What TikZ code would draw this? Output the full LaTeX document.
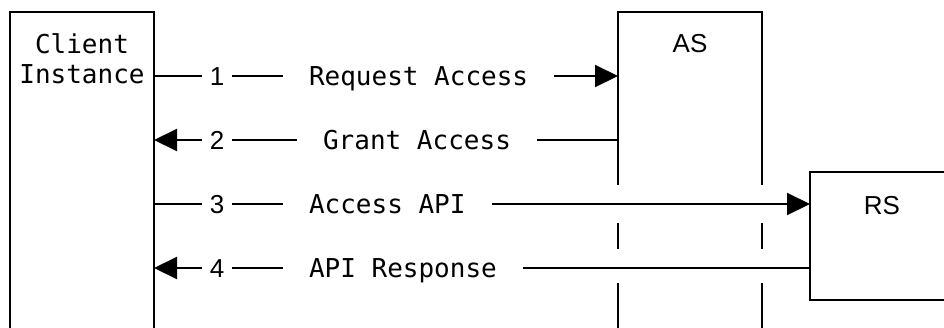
\documentclass[tikz,border=0pt]{standalone}
\usepackage{fontspec}
\setmainfont{Liberation Sans}
\setmonofont{DejaVu Sans Mono}
\usetikzlibrary{arrows.meta, positioning}

\begin{document}
\begin{tikzpicture}[
	x=1pt, y=-1pt,
	line width=2pt,
	party/.style={
		draw,
		rectangle,
		minimum width=144pt,
		inner sep=0pt,
		outer sep=0pt
	},
	who/.style={
		font=\fontsize{26pt}{30pt}\selectfont\ttfamily,
		align=center,
		inner sep=0pt
	},
	head/.style={
		font=\fontsize{26pt}{30pt}\selectfont,
		inner sep=0pt
	},
	num/.style={
		font=\fontsize{26pt}{30pt}\selectfont,
		fill=white,
		text height=18.6pt, text depth=0pt,
		inner xsep=8pt, inner ysep=2pt
	},
	msg/.style={
		font=\fontsize{26pt}{30pt}\selectfont\ttfamily,
		fill=white,
		text height=18.6pt, text depth=0pt,
		inner xsep=26pt, inner ysep=2pt
	},
	cut/.style={draw=white, line width=#1},
	call/.style={-{Triangle[length=23pt,width=22pt]}}
	]
	\path[use as bounding box, clip] (0,0) rectangle (944,327);
	
	\coordinate (r1) at (0,76);
	\coordinate (r2) at (0,140);
	\coordinate (r3) at (0,204);
	\coordinate (r4) at (0,268);
	
	% the three parties
	\node[party, minimum height=400pt, anchor=north] (as) at (690,12) {};
	\node[head, below=21pt of as.north] (asname) {AS};
	\draw[cut=38pt] ([xshift=-6pt]as.west |- r3) -- ([xshift=6pt]as.east |- r3);
	\draw[cut=34pt] ([xshift=-6pt]as.west |- 0,266) -- ([xshift=6pt]as.east |- 0,266);
	
	\node[party, minimum height=400pt, anchor=north] (client) at (82,12) {};
	\node[who, below=21pt of client.north] (clientname) {Client\\Instance};
	
	\node[party, minimum height=128pt, anchor=north west] (rs) at (810,172) {};
	\node[head, below=23pt of rs.north] (rsname) {RS};
	
	% messages
	\draw[call] (client.east |- r1) -- (as.west |- r1);
	\draw[call] (as.west |- r2) -- (client.east |- r2);
	\draw[call] (client.east |- r3) -- (rs.west |- r3);
	\draw[call] (rs.west |- r4) -- (client.east |- r4);
	
	\node[num] (n1) at (217,76) {1};
	\node[num] (n2) at (217,140) {2};
	\node[num] (n3) at (217,204) {3};
	\node[num] (n4) at (217,268) {4};
	
	\node[msg, anchor=west] (m1) at (282,76) {Request Access};
	\node[msg] (m2) at (417,140) {Grant Access};
	\node[msg, anchor=west] (m3) at (282,204) {Access API};
	\node[msg, anchor=west] (m4) at (282,268) {API Response};
\end{tikzpicture}
\end{document}
